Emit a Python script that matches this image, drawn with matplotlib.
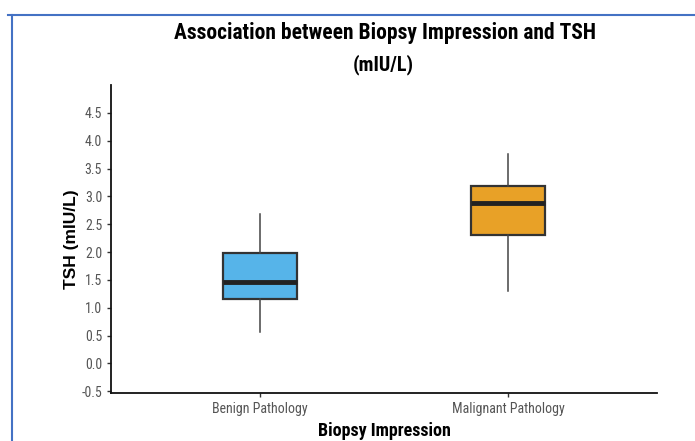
import matplotlib
matplotlib.use("Agg")
import matplotlib.pyplot as plt
from matplotlib.lines import Line2D

categories = ["Benign Pathology", "Malignant Pathology"]
whislo = [0.56, 1.31]
q1 = [1.16, 2.31]
med = [1.47, 2.89]
q3 = [1.99, 3.19]
whishi = [2.69, 3.76]
colors = ["#56B4E9", "#E8A127"]
yticks = [-0.5, 0.0, 0.5, 1.0, 1.5, 2.0, 2.5, 3.0, 3.5, 4.0, 4.5]

NARROW = ["Roboto Condensed", "DejaVu Sans"]
ARIAL = ["Liberation Sans", "DejaVu Sans"]

fig = plt.figure(figsize=(6.95, 4.41), dpi=100)
ax = fig.add_axes([0.16, 0.109, 0.785, 0.698])

stats = [dict(label=c, whislo=lo, q1=a, med=m, q3=b, whishi=hi, fliers=[])
         for c, lo, a, m, b, hi in zip(categories, whislo, q1, med, q3, whishi)]
bp = ax.bxp(stats, positions=[1, 2], widths=0.3, patch_artist=True, showcaps=False,
            boxprops=dict(edgecolor="#333333", linewidth=1.6),
            medianprops=dict(color="#222222", linewidth=3.5, solid_capstyle="butt"),
            whiskerprops=dict(color="#444444", linewidth=1.1))
for patch, c in zip(bp["boxes"], colors):
    patch.set_facecolor(c)

ax.set_xlim(0.4, 2.6)
ax.set_ylim(-0.53, 5.0)
ax.set_yticks(yticks)
ax.set_yticklabels([f"{v:.1f}" for v in yticks], family=NARROW, fontsize=10, color="#555555")
ax.set_xticks([1, 2])
ax.set_xticklabels(categories, family=NARROW, fontsize=10, color="#555555")
ax.tick_params(axis="both", length=3, width=1, color="#333333")
for s in ["top", "right"]:
    ax.spines[s].set_visible(False)
for s in ["left", "bottom"]:
    ax.spines[s].set_linewidth(1.3)
    ax.spines[s].set_color("#111111")

ax.set_ylabel("TSH (mIU/L)", family=ARIAL, fontsize=12.5, fontweight="bold", labelpad=2)
ax.set_xlabel("Biopsy Impression", family=NARROW, fontsize=13, fontweight="bold", labelpad=4)

fig.text(0.554, 0.925, "Association between Biopsy Impression and TSH", family=NARROW,
         fontsize=15.5, fontweight="bold", ha="center", va="center")
fig.text(0.552, 0.853, "(mIU/L)", family=NARROW, fontsize=14.5, fontweight="bold",
         ha="center", va="center")

# blue frame around the figure
fig.add_artist(Line2D([0.012, 1.0], [0.967, 0.967], color="#4472C4", linewidth=1.5))
fig.add_artist(Line2D([0.017, 0.017], [0.0, 0.967], color="#4472C4", linewidth=1.5))

fig.savefig("out.png", dpi=100)
